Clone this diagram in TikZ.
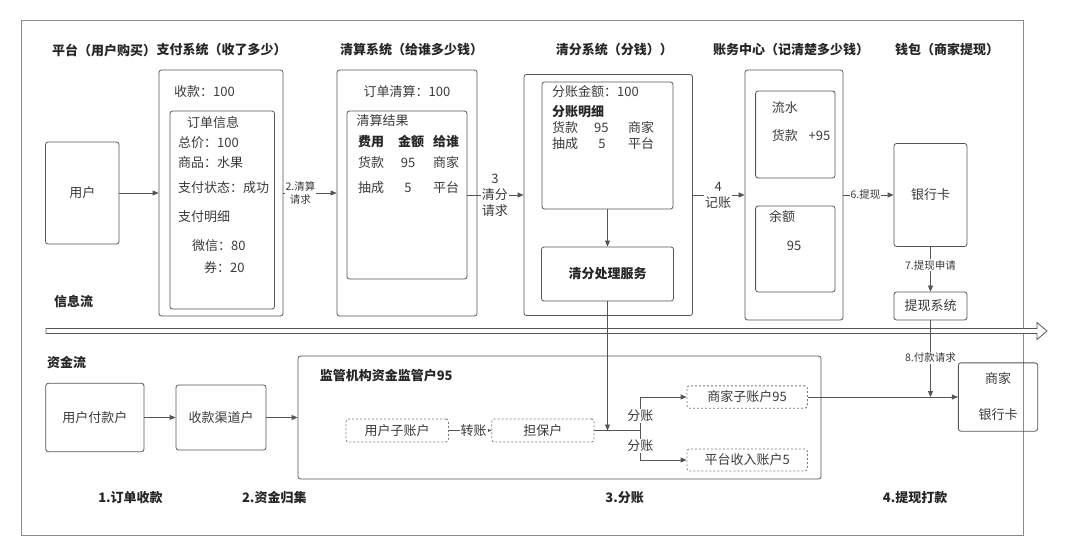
\documentclass[tikz,border=0pt]{standalone}
\usepackage{fontspec}
\setmainfont{Noto Sans CJK SC}
\usetikzlibrary{arrows.meta}
\definecolor{ln}{HTML}{555555}
\definecolor{tx}{HTML}{3a3a3a}
\definecolor{fr}{HTML}{8a8a8a}
\definecolor{dsh}{HTML}{7a7a7a}
\tikzset{
  every node/.style={font=\fontsize{13}{16}\selectfont, text=tx, inner sep=0pt},
  box/.style={draw=ln, line width=0.8pt, rounded corners=2.5pt},
  dbox/.style={draw=dsh, line width=0.8pt, rounded corners=2.5pt, dash pattern=on 2pt off 2pt},
  sz/.style 2 args={minimum width=#1pt, minimum height=#2pt},
  arr/.style={draw=ln, line width=0.8pt, -{Triangle[length=6pt,width=5pt]}},
  plain/.style={draw=ln, line width=0.8pt},
  lab/.style={fill=white, inner sep=1pt},
  small/.style={font=\fontsize{10.5}{13}\selectfont},
  bold/.style={font=\fontsize{13}{16}\selectfont\bfseries, text=black!85},
  lt/.style={anchor=west},
}
\begin{document}
\begin{tikzpicture}[x=1pt, y=-1pt]
\useasboundingbox (0,0) rectangle (1080,556);
\draw[draw=fr, line width=1pt] (21,21) rectangle (1023,535);

% titles
\node[bold, lt] (t1) at (52,50) {平台（用户购买）};
\node[bold, lt] (t2) at (t1.east) {支付系统（收了多少）};
\node[bold, lt] (t3) at (340,50) {清算系统（给谁多少钱）};
\node[bold, lt] (t4) at (555.7,50) {清分系统（分钱））};
\node[bold, lt] (t5) at (712.8,50) {账务中心（记清楚多少钱）};
\node[bold, lt] (t6) at (895,50) {钱包（商家提现）};

% info flow boxes
\node[box, sz={73.5}{102}] (user) at (82.25,193) {用户};
\node[box, sz={124}{246}] (pay) at (221,193) {};
\node[box, sz={104.5}{198}] (payin) at (222.25,210) {};
\node[lt] (p0) at (174,92) {收款：100};
\node[lt] (p1) at (187,123) {订单信息};
\node[lt] (p2) at (178,143) {总价：100};
\node[lt] (p3) at (178,163) {商品：水果};
\node[lt] (p4) at (178,188) {支付状态：成功};
\node[lt] (p5) at (178,217) {支付明细};
\node[lt] (p6) at (192,246) {微信：80};
\node[lt] (p7) at (204,268) {券：20};

\node[box, sz={140}{246}] (clr) at (407,193) {};
\node[box, sz={120}{168}] (clrin) at (407,195) {};
\node (c0) at (407,92) {订单清算：100};
\node[lt] (c1) at (356.5,121) {清算结果};
\node[lt, bold] (c2) at (358,142) {费用};
\node[lt, bold] (c3) at (398,142) {金额};
\node[lt, bold] (c4) at (433,142) {给谁};
\node[lt] (c5) at (358,163) {货款};
\node (c6) at (408,163) {95};
\node[lt] (c7) at (433,163) {商家};
\node[lt] (c8) at (358,188) {抽成};
\node (c9) at (408,188) {5};
\node[lt] (c10) at (433,188) {平台};

\node[box, sz={168.5}{241}] (spl) at (608.25,195) {};
\node[box, sz={131}{127}] (splin) at (607.5,145.5) {};
\node[lt] (s0) at (552,92) {分账金额：100};
\node[lt, bold] (s1) at (552,112) {分账明细};
\node[lt] (s2) at (552,128) {货款};
\node[lt] (s3) at (594,128) {95};
\node[lt] (s4) at (628,128) {商家};
\node[lt] (s5) at (552,144) {抽成};
\node (s6) at (602,144) {5};
\node[lt] (s7) at (628,144) {平台};
\node[box, sz={132}{54}, bold] (splsvc) at (607.5,274) {清分处理服务};

\node[box, sz={98}{250}] (acc) at (794,195) {};
\node[box, sz={79.4}{87}] (flow) at (795.3,134.5) {};
\node[box, sz={79.4}{86}] (bal) at (795.3,249) {};
\node[lt] (a1) at (771.7,108) {流水};
\node[lt] (a2) at (771.7,136) {货款};
\node[lt] (a3) at (808.5,136) {+95};
\node[lt] (a4) at (769,217) {余额};
\node (a5) at (794,246) {95};

\node[box, sz={73}{103}] (card) at (930.5,195) {银行卡};
\node[box, sz={73}{28}] (wds) at (930.5,306) {提现系统};

\node[bold, lt] (info) at (54,302) {信息流};
\node[bold, lt] (fund) at (47,362) {资金流};

% big hollow arrow
\draw[draw=ln, line width=0.8pt, fill=white, line join=miter]
  (46,328.5) -- (1037,328.5) -- (1037,322.5) -- (1047,331) -- (1037,339.5) -- (1037,333.5) -- (46,333.5) -- cycle;

% info flow connectors
\draw[arr] (user) -- (pay);
\draw[arr] (pay.east) -- (clr.west) node[lab, small, align=center, pos=0.32] {2.清算\\请求};
\draw[arr] (clrin.east) -- (spl.west) node[lab, align=center, pos=0.49] {3\\清分\\请求};
\draw[arr] (spl.east) -- (acc.west) node[lab, align=center, pos=0.49] {4\\记账};
\draw[arr] (acc.east) -- (card.west) node[lab, small, pos=0.44] {6.提现};
\draw[arr] (card.south) -- (wds.north) node[lab, small, pos=0.41] {7.提现申请};
\draw[arr] (splin.south) -- (splsvc.north);

% fund flow
\node[box, sz={98.2}{68.4}] (upay) at (94.9,417.5) {用户付款户};
\node[box, sz={90}{65}] (chan) at (221,417.5) {收款渠道户};
\node[box, sz={523}{123}] (sup) at (559.5,417.5) {};
\node[bold, lt] (suplab) at (319.6,375.7) {监管机构资金监管户95};
\node[dbox, sz={102.4}{23}] (usub) at (397.2,430.5) {用户子账户};
\node[dbox, sz={102.2}{23}] (guar) at (542.9,430.5) {担保户};
\node[dbox, sz={120.4}{22.3}] (msub) at (747.2,397) {商家子账户95};
\node[dbox, sz={120.4}{22}] (psub) at (747.2,460) {平台收入账户5};
\node[box, sz={79.3}{68.3}, align=center, font=\fontsize{13}{36}\selectfont] (mcard) at (998,397) {商家\\银行卡};

\coordinate (fork) at (640.3,430.5);
\coordinate (jdown) at (splsvc.south |- guar.east);
\coordinate (jpay) at (wds.south |- msub.east);

\draw[arr] (upay) -- (chan);
\draw[arr] (chan) -- (sup.west |- chan.east);
\draw[arr] (usub) -- (guar) node[lab, pos=0.58] {转账};
\draw[plain] (guar.east) -- (fork);
\draw[arr] (splsvc.south) -- (jdown);
\draw[arr] (fork) |- (msub.west);
\draw[arr] (fork) |- (psub.west);
\node[lab] (f1) at (640.3,415.7) {分账};
\node[lab] (f2) at (640.3,445.7) {分账};
\draw[arr] (msub.east) -- (mcard.west);
\draw[arr] (wds.south) -- (jpay) node[lab, small, pos=0.49] {8.付款请求};

% step labels
\node[bold] (b1) at (130.5,497.7) {1.订单收款};
\node[bold] (b2) at (274.3,497.7) {2.资金归集};
\node[bold] (b3) at (624.6,497.7) {3.分账};
\node[bold] (b4) at (915.2,497.7) {4.提现打款};
\end{tikzpicture}
\end{document}
